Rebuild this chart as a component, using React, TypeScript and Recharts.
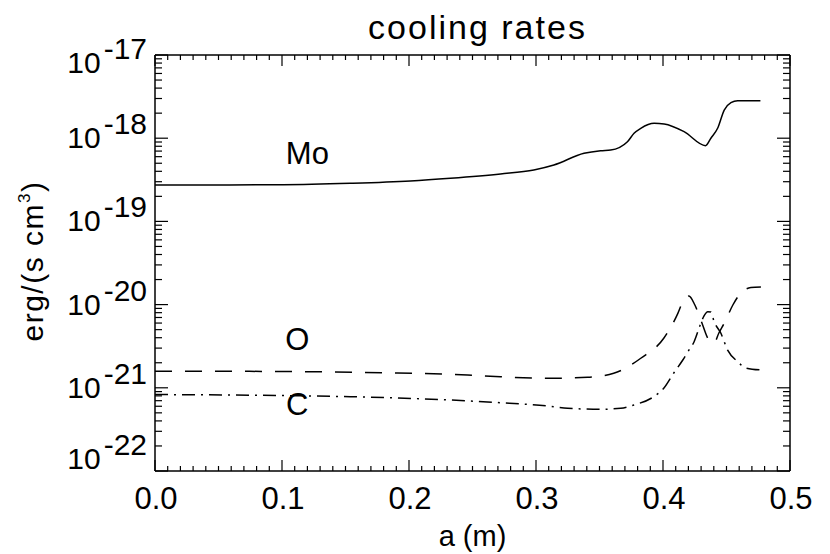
import React from "react";
import { LineChart, Line, XAxis, YAxis, Label, ReferenceDot } from "recharts";

// radius a (m) and cooling rate erg/(s cm^3)
const moA = [0, 0.1009, 0.1538, 0.2011, 0.2326, 0.2721, 0.2983, 0.3141, 0.3378, 0.3509, 0.3588, 0.372, 0.3772, 0.3825, 0.393, 0.4009, 0.4166, 0.4335, 0.4377, 0.443, 0.4482, 0.4535, 0.4588, 0.4767];
const moRate = [2.74e-19, 2.76e-19, 2.87e-19, 3.06e-19, 3.3e-19, 3.72e-19, 4.15e-19, 4.76e-19, 6.59e-19, 7.08e-19, 7.21e-19, 9.08e-19, 1.146e-18, 1.315e-18, 1.51e-18, 1.48e-18, 1.197e-18, 8.13e-19, 9.98e-19, 1.315e-18, 2.18e-18, 2.67e-18, 2.82e-18, 2.82e-18];

const oA = [0, 0.1009, 0.1798, 0.2461, 0.2721, 0.3091, 0.3407, 0.3612, 0.3825, 0.4006, 0.4117, 0.4156, 0.4204, 0.4251, 0.4298, 0.4361, 0.4401, 0.444, 0.4487, 0.455, 0.4613, 0.4692, 0.4771];
const oRate = [1.585e-21, 1.57e-21, 1.517e-21, 1.426e-21, 1.358e-21, 1.3e-21, 1.337e-21, 1.493e-21, 2.265e-21, 3.94e-21, 7.85e-21, 1.084e-20, 1.268e-20, 9.89e-21, 6.53e-21, 3.76e-21, 3.45e-21, 4.56e-21, 6.18e-21, 9.89e-21, 1.377e-20, 1.603e-20, 1.63e-20];

const cA = [0, 0.1538, 0.2326, 0.2721, 0.3091, 0.3249, 0.3509, 0.3667, 0.377, 0.3927, 0.4006, 0.4085, 0.4156, 0.4204, 0.4245, 0.429, 0.4322, 0.4353, 0.4377, 0.4403, 0.4456, 0.4509, 0.4588, 0.4653, 0.4771];
const cRate = [8.3e-22, 7.82e-22, 7.13e-22, 6.62e-22, 6.04e-22, 5.68e-22, 5.52e-22, 5.68e-22, 6.21e-22, 7.82e-22, 9.86e-22, 1.507e-21, 2.158e-21, 2.84e-21, 3.58e-21, 5.53e-21, 7.29e-21, 8.22e-21, 8.15e-21, 6.22e-21, 4.52e-21, 2.84e-21, 2.06e-21, 1.73e-21, 1.64e-21];

const xMajor = [0, 0.1, 0.2, 0.3, 0.4, 0.5];
const xTickLabels = ["0.0", "0.1", "0.2", "0.3", "0.4", "0.5"];
const yExponents = [-22, -21, -20, -19, -18, -17];

const labelNames = ["Mo", "O", "C"];
const labelA = [0.12, 0.112, 0.112];
const labelRate = [6.55e-19, 3.86e-21, 6.3e-22];

const FONT = '"Liberation Sans", Arial, Helvetica, sans-serif';

const xTicks = Array.from({ length: 51 }, (_, i) => i / 100);
const yTicks: number[] = [];
yExponents.forEach((e, i) => {
  for (let k = 1; k <= 9; k++) {
    if (i === yExponents.length - 1 && k > 1) break;
    yTicks.push(Number((k * Math.pow(10, e)).toPrecision(3)));
  }
});

const toPoints = (xs: number[], ys: number[]) => xs.map((a, i) => ({ a, rate: ys[i] }));
const moData = toPoints(moA, moRate);
const oData = toPoints(oA, oRate);
const cData = toPoints(cA, cRate);

const majorXIndex = (v: number) => xMajor.findIndex((m) => Math.abs(m - v) < 1e-6);
const yExp = (v: number) => {
  const e = Math.log10(v);
  return Math.abs(e - Math.round(e)) < 1e-6 ? Math.round(e) : null;
};

const BottomTick = ({ x, y, payload }: any) => {
  const idx = majorXIndex(payload.value);
  return (
    <g>
      <line x1={x} x2={x} y1={y} y2={y - (idx >= 0 ? 11 : 5)} stroke="#000" strokeWidth={1.2} />
      {idx >= 0 && (
        <text x={x + 1} y={y + 38} textAnchor="middle" fontSize={31} fontFamily={FONT} fill="#000">
          {xTickLabels[idx]}
        </text>
      )}
    </g>
  );
};

const TopTick = ({ x, y, payload }: any) => {
  const major = majorXIndex(payload.value) >= 0;
  return <line x1={x} x2={x} y1={y} y2={y + (major ? 11 : 5)} stroke="#000" strokeWidth={1.2} />;
};

const LeftTick = ({ x, y, payload }: any) => {
  const e = yExp(payload.value);
  const shift = e === -17 ? 8 : e === -22 ? -12 : 0;
  return (
    <g>
      <line x1={x} x2={x + (e !== null ? 13 : 7)} y1={y} y2={y} stroke="#000" strokeWidth={1.2} />
      {e !== null && (
        <text x={x - 8} y={y + 10 + shift} textAnchor="end" fontSize={30} fontFamily={FONT} fill="#000">
          10
          <tspan dx={3} dy={-14} fontSize={30}>{String(e)}</tspan>
        </text>
      )}
    </g>
  );
};

const RightTick = ({ x, y, payload }: any) => {
  const e = yExp(payload.value);
  return <line x1={x} x2={x - (e !== null ? 13 : 7)} y1={y} y2={y} stroke="#000" strokeWidth={1.2} />;
};

const TitleLabel = ({ viewBox }: any) => (
  <text x={viewBox.x + viewBox.width / 2 + 5} y={39} textAnchor="middle" fontSize={34} letterSpacing={2} fontFamily={FONT} fill="#000">
    cooling rates
  </text>
);

const XTitle = ({ viewBox }: any) => (
  <text x={viewBox.x + viewBox.width / 2} y={viewBox.y + 75} textAnchor="middle" fontSize={29} fontFamily={FONT} fill="#000">
    a (m)
  </text>
);

const YTitle = ({ viewBox }: any) => {
  const cy = viewBox.y + viewBox.height / 2 - 2;
  return (
    <text x={43} y={cy} transform={`rotate(-90 43 ${cy})`} textAnchor="middle" fontSize={30} letterSpacing={1.5} fontFamily={FONT} fill="#000">
      erg/(s cm<tspan dy={-13} fontSize={17}>3</tspan>
      <tspan dy={13}>)</tspan>
    </text>
  );
};

const NameDot = (name: string) => (p: any) => (
  <text x={p.cx} y={p.cy + 11} textAnchor="middle" fontSize={31} fontFamily={FONT} fill="#000">
    {name}
  </text>
);

export default function App() {
  return (
    <div style={{ position: "absolute", left: 0, top: 0, width: 830, height: 554, background: "#fff" }}>
      <LineChart width={830} height={554} margin={{ top: 0, right: 0, bottom: 0, left: 0 }}>
        <XAxis
          dataKey="a"
          type="number"
          domain={[0, 0.5]}
          ticks={xTicks}
          interval={0}
          height={83}
          tickSize={0}
          tickMargin={0}
          tick={BottomTick}
          axisLine={{ stroke: "#000", strokeWidth: 1.5 }}
          allowDataOverflow
        >
          <Label content={XTitle} />
        </XAxis>
        <XAxis
          xAxisId="top"
          orientation="top"
          dataKey="a"
          type="number"
          domain={[0, 0.5]}
          ticks={xTicks}
          interval={0}
          height={55}
          tickSize={0}
          tickMargin={0}
          tick={TopTick}
          axisLine={{ stroke: "#000", strokeWidth: 1.5 }}
          allowDataOverflow
        >
          <Label content={TitleLabel} />
        </XAxis>
        <YAxis
          scale="log"
          type="number"
          domain={[1e-22, 1e-17]}
          ticks={yTicks}
          interval={0}
          width={155}
          tickSize={0}
          tickMargin={0}
          tick={LeftTick}
          axisLine={{ stroke: "#000", strokeWidth: 1.5 }}
          allowDataOverflow
        >
          <Label content={YTitle} />
        </YAxis>
        <YAxis
          yAxisId="right"
          orientation="right"
          scale="log"
          type="number"
          domain={[1e-22, 1e-17]}
          ticks={yTicks}
          interval={0}
          width={40}
          tickSize={0}
          tickMargin={0}
          tick={RightTick}
          axisLine={{ stroke: "#000", strokeWidth: 1.5 }}
          allowDataOverflow
        />
        <Line data={moData} dataKey="rate" type="monotone" stroke="#000" strokeWidth={1.5} dot={false} activeDot={false} isAnimationActive={false} />
        <Line data={oData} dataKey="rate" type="monotone" stroke="#000" strokeWidth={1.5} strokeDasharray="17 13" dot={false} activeDot={false} isAnimationActive={false} />
        <Line data={cData} dataKey="rate" type="monotone" stroke="#000" strokeWidth={1.5} strokeDasharray="13 6 2 6" dot={false} activeDot={false} isAnimationActive={false} />
        {labelNames.map((name, i) => (
          <ReferenceDot key={name} x={labelA[i]} y={labelRate[i]} r={0} shape={NameDot(name)} />
        ))}
      </LineChart>
    </div>
  );
}
